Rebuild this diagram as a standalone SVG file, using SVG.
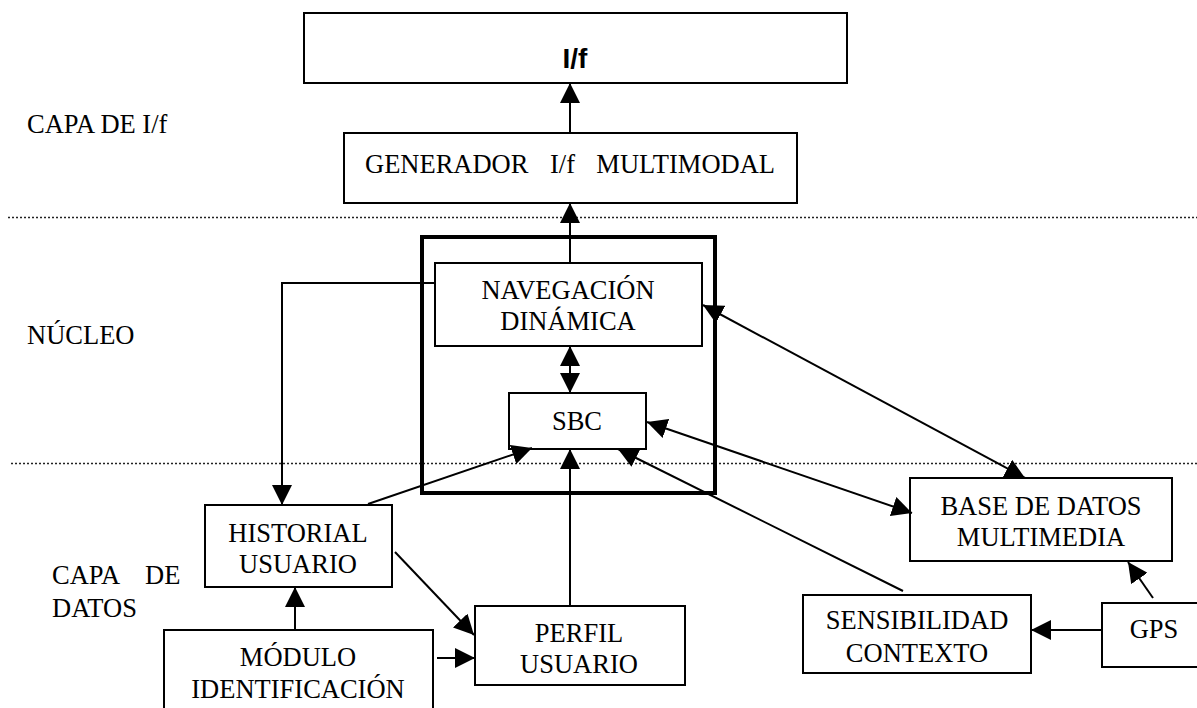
<svg xmlns="http://www.w3.org/2000/svg" width="1197" height="708" viewBox="0 0 1197 708">
<defs>
<marker id="ah" markerUnits="userSpaceOnUse" markerWidth="20" markerHeight="20" refX="20" refY="10" orient="auto-start-reverse"><path d="M0,0 L20,10 L0,20 z" fill="#000"/></marker>
<style>
.box{fill:#fff;stroke:#000;stroke-width:2}
.t{font-family:'Liberation Serif','Times New Roman',serif;font-size:26.5px;fill:#000}
.c{text-anchor:middle}
.ln{fill:none;stroke:#000;stroke-width:2}
.e{marker-end:url(#ah)}
.b{marker-start:url(#ah);marker-end:url(#ah)}
.dot{stroke:#222;stroke-width:1.5;stroke-dasharray:2 2}
</style>
</defs>
<rect width="1197" height="708" fill="#fff"/>
<g id="separators">
<line class="dot" x1="8" y1="217.5" x2="1197" y2="217.5"/>
<line class="dot" x1="11" y1="463.5" x2="1197" y2="463.5"/>
</g>
<g id="labels">
<text class="t" x="27" y="133">CAPA DE I/f</text>
<text class="t" x="27" y="344">NÚCLEO</text>
<text class="t" y="584"><tspan x="52">CAPA</tspan><tspan x="145">DE</tspan></text>
<text class="t" x="52" y="617">DATOS</text>
</g>
<g id="nucleo-frame"><rect x="422" y="237" width="293" height="256" fill="none" stroke="#000" stroke-width="4"/></g>
<g id="if-top"><rect class="box" x="304" y="13" width="543" height="70"/><text x="575" y="68" text-anchor="middle" font-family="'Liberation Sans Narrow','Liberation Sans',sans-serif" font-weight="bold" font-size="28">I/f</text></g>
<g id="generador"><rect class="box" x="344" y="133" width="453" height="70"/><text class="t" y="173"><tspan x="365">GENERADOR</tspan><tspan x="550">I/f</tspan><tspan x="775" text-anchor="end">MULTIMODAL</tspan></text></g>
<g id="navegacion"><rect class="box" x="435" y="263" width="267" height="83"/><text class="t c" x="568" y="299">NAVEGACIÓN</text><text class="t c" x="568" y="330">DINÁMICA</text></g>
<g id="sbc"><rect class="box" x="509" y="393" width="137" height="56"/><text class="t c" x="577" y="430">SBC</text></g>
<g id="historial"><rect class="box" x="205" y="505" width="187" height="82"/><text class="t c" x="298" y="542">HISTORIAL</text><text class="t c" x="298" y="573">USUARIO</text></g>
<g id="modulo"><rect class="box" x="164" y="630" width="269" height="90"/><text class="t c" x="298" y="666">MÓDULO</text><text class="t c" x="298" y="698">IDENTIFICACIÓN</text></g>
<g id="perfil"><rect class="box" x="475" y="606" width="210" height="79"/><text class="t c" x="579" y="642">PERFIL</text><text class="t c" x="579" y="673">USUARIO</text></g>
<g id="base"><rect class="box" x="910" y="478" width="262" height="83"/><text class="t c" x="1041" y="515">BASE DE DATOS</text><text class="t c" x="1041" y="546">MULTIMEDIA</text></g>
<g id="sensibilidad"><rect class="box" x="803" y="595" width="228" height="78"/><text class="t c" x="917" y="629">SENSIBILIDAD</text><text class="t c" x="917" y="662">CONTEXTO</text></g>
<g id="gps"><rect class="box" x="1102" y="603" width="96" height="64"/><text class="t c" x="1154" y="638">GPS</text></g>
<g id="connectors">
<line class="ln e" x1="570" y1="133" x2="570" y2="83"/>
<line class="ln e" x1="570" y1="263" x2="570" y2="203"/>
<polyline class="ln e" points="435,283 282,283 282,505"/>
<line class="ln b" x1="570" y1="346" x2="570" y2="393"/>
<line class="ln e" x1="368" y1="504" x2="532" y2="448"/>
<line class="ln e" x1="570" y1="606" x2="570" y2="449"/>
<line class="ln e" x1="903" y1="591" x2="618" y2="449"/>
<line class="ln b" x1="647" y1="422" x2="912" y2="513"/>
<line class="ln b" x1="703" y1="305" x2="1025" y2="478"/>
<line class="ln e" x1="295" y1="631" x2="295" y2="587"/>
<line class="ln e" x1="437" y1="658" x2="475" y2="658"/>
<line class="ln e" x1="395" y1="552" x2="474" y2="635"/>
<line class="ln e" x1="1102" y1="630" x2="1031" y2="630"/>
<line class="ln e" x1="1153" y1="598" x2="1128" y2="562"/>
</g>
</svg>
